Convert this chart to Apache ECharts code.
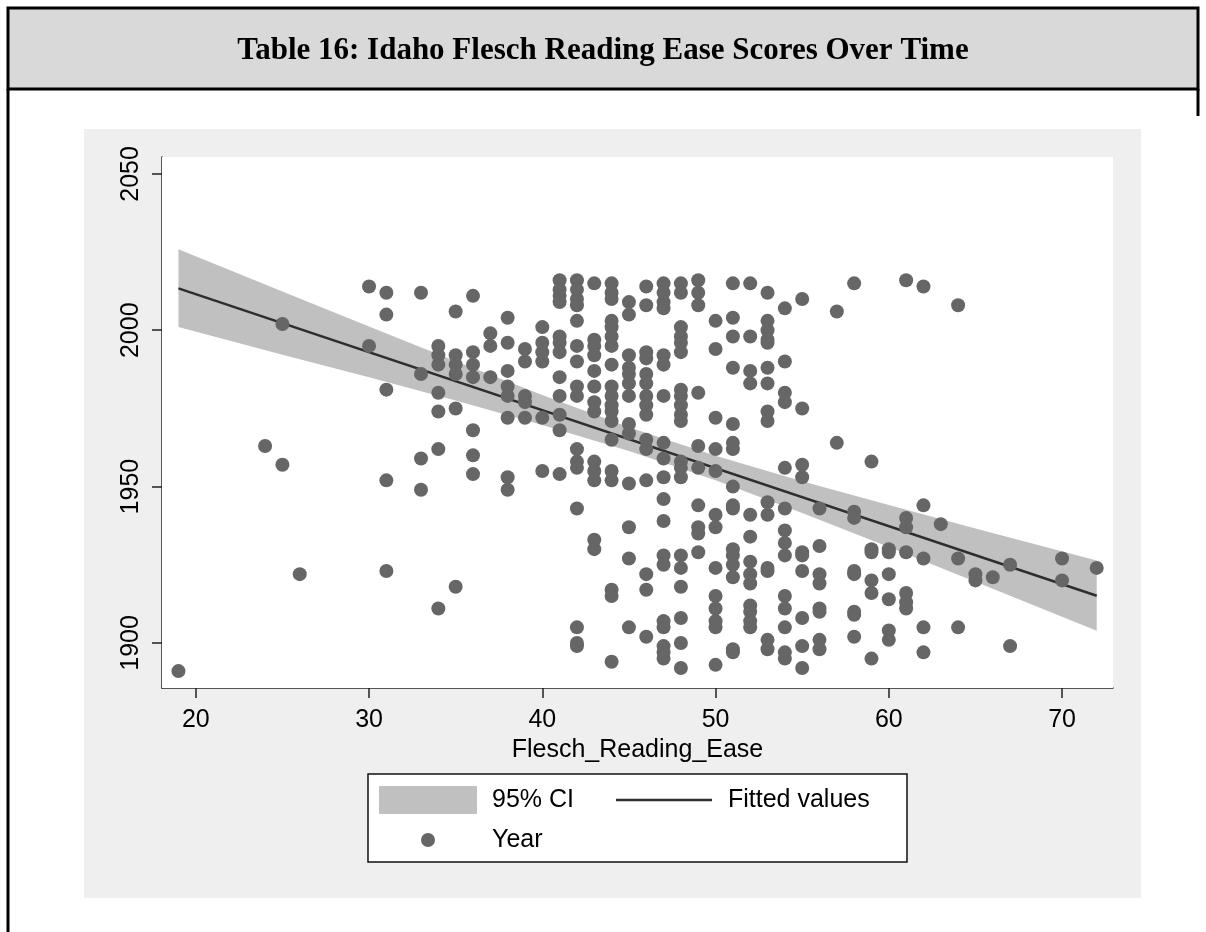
<!DOCTYPE html>
<html lang="en">

<head>
    <meta charset="UTF-8">
    <title>Table 16: Idaho Flesch Reading Ease Scores Over Time</title>
    <script src="https://cdn.jsdelivr.net/npm/echarts@6/dist/echarts.min.js"></script>
    <style>
        * {
            margin: 0;
            padding: 0;
        }

        body {
            background: #fff;
        }

        #main {
            width: 1206px;
            height: 932px;
        }
    </style>
</head>

<body>
    <div id="main"></div>
    <script>
        // Flesch reading ease (x) and the years observed at each score
        const easeValues = [19, 24, 25, 26, 30, 31, 33, 34, 35, 36, 37, 38, 39, 40, 41, 42, 43, 44, 45, 46, 47, 48,
            49, 50, 51, 52, 53, 54, 55, 56, 57, 58, 59, 60, 61, 62, 63, 64, 65, 66, 67, 70, 72];
        const yearsAtEase = [
            [1891],
            [1963],
            [2002, 1957],
            [1922],
            [2014, 1995],
            [2012, 2005, 1981, 1952, 1923],
            [2012, 1986, 1959, 1949],
            [1995, 1992, 1989, 1980, 1974, 1962, 1911],
            [2006, 1992, 1989, 1986, 1975, 1918],
            [2011, 1993, 1989, 1985, 1968, 1960, 1954],
            [1999, 1995, 1985],
            [2004, 1996, 1987, 1982, 1979, 1972, 1953, 1949],
            [1994, 1990, 1979, 1977, 1972],
            [2001, 1996, 1993, 1990, 1972, 1955],
            [2016, 2013, 2011, 2009, 1998, 1996, 1993, 1985, 1979, 1973, 1968, 1954],
            [2016, 2013, 2010, 2008, 2003, 1995, 1990, 1982, 1979, 1962, 1958, 1956, 1943, 1905, 1900, 1899],
            [2015, 1997, 1995, 1992, 1987, 1982, 1977, 1974, 1958, 1955, 1952, 1933, 1930],
            [2015, 2012, 2010, 2003, 2001, 1998, 1995, 1989, 1982, 1979, 1976, 1974, 1971, 1965, 1955, 1952, 1917, 1915, 1894],
            [2009, 2005, 1992, 1988, 1986, 1983, 1979, 1970, 1967, 1951, 1937, 1927, 1905],
            [2014, 2008, 1993, 1991, 1986, 1983, 1979, 1976, 1973, 1965, 1962, 1952, 1922, 1917, 1902],
            [2015, 2012, 2009, 2007, 1992, 1989, 1979, 1964, 1959, 1953, 1946, 1939, 1928, 1925, 1907, 1905, 1899, 1897, 1895],
            [2015, 2012, 2001, 1998, 1996, 1993, 1981, 1979, 1976, 1973, 1971, 1958, 1956, 1953, 1928, 1924, 1918, 1908, 1900, 1892],
            [2016, 2012, 2008, 1980, 1963, 1956, 1944, 1937, 1935, 1929],
            [2003, 1994, 1972, 1962, 1955, 1941, 1937, 1924, 1915, 1911, 1907, 1905, 1893],
            [2015, 2004, 1998, 1988, 1970, 1964, 1962, 1950, 1944, 1943, 1930, 1928, 1925, 1921, 1898, 1897],
            [2015, 1998, 1987, 1983, 1941, 1934, 1926, 1922, 1919, 1912, 1910, 1907, 1905],
            [2012, 2003, 2000, 1997, 1996, 1988, 1983, 1974, 1971, 1945, 1941, 1924, 1923, 1901, 1898],
            [2007, 1990, 1980, 1977, 1956, 1943, 1936, 1932, 1928, 1915, 1911, 1905, 1897, 1895],
            [2010, 1975, 1957, 1953, 1929, 1928, 1923, 1908, 1899, 1892],
            [1943, 1931, 1922, 1919, 1911, 1910, 1901, 1898],
            [2006, 1964],
            [2015, 1942, 1940, 1923, 1922, 1910, 1909, 1902],
            [1958, 1930, 1929, 1920, 1916, 1895],
            [1930, 1929, 1922, 1914, 1904, 1901],
            [2016, 1940, 1937, 1929, 1916, 1913, 1911],
            [2014, 1944, 1927, 1905, 1897],
            [1938],
            [2008, 1927, 1905],
            [1922, 1920],
            [1921],
            [1925, 1899],
            [1927, 1920],
            [1924]
        ];

        // fitted line end points and 95% CI band
        const fitEase = [19, 72];
        const fitYear = [2013.4, 1915.1];
        const ciEase = [19, 25, 30, 35, 40, 45, 50, 55, 60, 65, 72];
        const ciLower = [2001.0, 1992.2, 1985.0, 1977.5, 1969.7, 1961.4, 1952.0, 1941.6, 1930.7, 1919.6, 1903.9];
        const ciUpper = [2025.9, 2012.4, 2001.2, 1990.1, 1979.3, 1969.0, 1959.9, 1951.7, 1944.1, 1936.6, 1926.4];

        const xTicks = [20, 30, 40, 50, 60, 70];
        const yTicks = [1900, 1950, 2000, 2050];

        const points = [];
        easeValues.forEach((e, i) => {
            yearsAtEase[i].forEach(y => points.push([e, y]));
        });
        const fitData = fitEase.map((e, i) => [e, fitYear[i]]);

        const sans = '"Liberation Sans", Arial, sans-serif';
        const axisColor = '#222';

        var chartDom = document.getElementById('main');
        var myChart = echarts.init(chartDom, null, { renderer: 'canvas' });
        var option = {
            animation: false,
            backgroundColor: '#fff',
            grid: {
                left: 162,
                top: 157,
                width: 951,
                height: 531,
                show: true,
                backgroundColor: '#fff',
                borderWidth: 0,
                z: 1
            },
            xAxis: {
                type: 'value',
                min: 18.05,
                max: 72.94,
                name: 'Flesch_Reading_Ease',
                nameLocation: 'middle',
                nameGap: 49,
                nameTextStyle: { color: '#000', fontSize: 25, fontFamily: sans },
                axisLine: { lineStyle: { color: axisColor, width: 1.5 } },
                axisTick: { customValues: xTicks, length: 10, lineStyle: { color: axisColor, width: 1.5 } },
                axisLabel: {
                    customValues: xTicks, color: '#000', fontSize: 25, fontFamily: sans, margin: 20,
                    formatter: v => String(v)
                },
                splitLine: { show: false }
            },
            yAxis: {
                type: 'value',
                min: 1885.6,
                max: 2055.4,
                axisLine: { show: true, lineStyle: { color: axisColor, width: 1.5 } },
                axisTick: { show: true, customValues: yTicks, length: 10, lineStyle: { color: axisColor, width: 1.5 } },
                axisLabel: {
                    customValues: yTicks, rotate: 90, color: '#000', fontSize: 25, fontFamily: sans, margin: 18,
                    formatter: v => String(v)
                },
                splitLine: { show: true, lineStyle: { color: '#ececec', width: 2 } }
            },
            series: [
                {
                    name: '95% CI',
                    type: 'custom',
                    silent: true,
                    z: 2,
                    renderItem: function (params, api) {
                        const pts = [];
                        for (let i = 0; i < ciEase.length; i++) pts.push(api.coord([ciEase[i], ciUpper[i]]));
                        for (let i = ciEase.length - 1; i >= 0; i--) pts.push(api.coord([ciEase[i], ciLower[i]]));
                        return { type: 'polygon', shape: { points: pts }, style: { fill: '#c0c0c0' } };
                    },
                    data: [[ciEase[0], ciLower[0]]]
                },
                {
                    name: 'Fitted values',
                    type: 'line',
                    silent: true,
                    z: 3,
                    symbol: 'none',
                    lineStyle: { color: '#2e2e2e', width: 2.5 },
                    data: fitData
                },
                {
                    name: 'Year',
                    type: 'scatter',
                    silent: true,
                    z: 4,
                    symbol: 'circle',
                    symbolSize: 14,
                    itemStyle: { color: '#666666', opacity: 1 },
                    data: points
                }
            ],
            graphic: [
                // table frame and header
                {
                    type: 'rect', z: -10, silent: true,
                    shape: { x: 84, y: 129, width: 1057, height: 769 },
                    style: { fill: '#efefef' }
                },
                {
                    type: 'rect', z: -5, silent: true,
                    shape: { x: 8, y: 8, width: 1190, height: 81 },
                    style: { fill: '#d9d9d9', stroke: '#000', lineWidth: 3 }
                },
                {
                    type: 'line', z: -5, silent: true,
                    shape: { x1: 8, y1: 89, x2: 8, y2: 932 },
                    style: { stroke: '#000', lineWidth: 3 }
                },
                {
                    type: 'line', z: -5, silent: true,
                    shape: { x1: 1198, y1: 89, x2: 1198, y2: 116 },
                    style: { stroke: '#000', lineWidth: 3 }
                },
                {
                    type: 'text', silent: true,
                    style: {
                        x: 603, y: 51, text: 'Table 16: Idaho Flesch Reading Ease Scores Over Time',
                        fill: '#000', font: 'bold 31px "Liberation Serif", "Times New Roman", serif',
                        align: 'center', verticalAlign: 'middle'
                    }
                },
                // legend
                {
                    type: 'rect', silent: true,
                    shape: { x: 368, y: 774, width: 539, height: 88 },
                    style: { fill: '#fff', stroke: '#111', lineWidth: 1.5 }
                },
                {
                    type: 'rect', silent: true,
                    shape: { x: 379, y: 786, width: 98, height: 28, r: 1 },
                    style: { fill: '#c0c0c0' }
                },
                {
                    type: 'text', silent: true,
                    style: { x: 492, y: 800, text: '95% CI', fill: '#000', font: '25px ' + sans, verticalAlign: 'middle' }
                },
                {
                    type: 'line', silent: true,
                    shape: { x1: 616, y1: 800, x2: 712, y2: 800 },
                    style: { stroke: '#2e2e2e', lineWidth: 2.5 }
                },
                {
                    type: 'text', silent: true,
                    style: { x: 728, y: 800, text: 'Fitted values', fill: '#000', font: '25px ' + sans, verticalAlign: 'middle' }
                },
                {
                    type: 'circle', silent: true,
                    shape: { cx: 428, cy: 840, r: 7 },
                    style: { fill: '#666666' }
                },
                {
                    type: 'text', silent: true,
                    style: { x: 492, y: 840, text: 'Year', fill: '#000', font: '25px ' + sans, verticalAlign: 'middle' }
                }
            ]
        };

        option && myChart.setOption(option);
    </script>
</body>

</html>
